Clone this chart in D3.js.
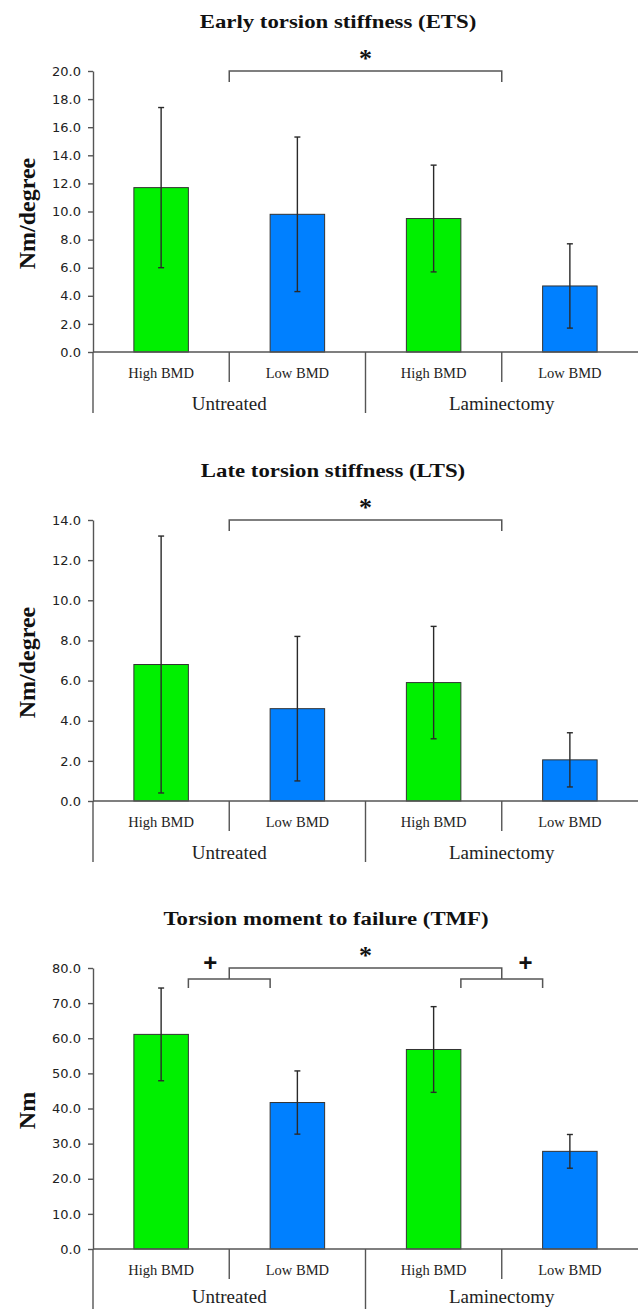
<!DOCTYPE html>
<html>
<head>
<meta charset="utf-8">
<script src="https://cdn.jsdelivr.net/npm/d3@7"></script>
<style>
  body { margin: 0; background: #fff; }
  svg { display: block; }
</style>
</head>
<body>
<div id="chart"></div>
<script>
// --- données ---
const groups = ['Untreated', 'Laminectomy']
const bmd = ['High BMD', 'Low BMD', 'High BMD', 'Low BMD']

const etsMean = [11.7, 9.8, 9.5, 4.7]
const etsSD = [5.7, 5.5, 3.8, 3.0]
const etsTicks = [0, 2, 4, 6, 8, 10, 12, 14, 16, 18, 20]

const ltsMean = [6.8, 4.6, 5.9, 2.05]
const ltsSD = [6.4, 3.6, 2.8, 1.35]
const ltsTicks = [0, 2, 4, 6, 8, 10, 12, 14]

const tmfMean = [61.1, 41.7, 56.8, 27.8]
const tmfSD = [13.2, 9.0, 12.2, 4.8]
const tmfTicks = [0, 10, 20, 30, 40, 50, 60, 70, 80]

const colors = ['#00f000', '#0080ff', '#00f000', '#0080ff']

// --- constantes ---
const W = 639, H = 1309
const left = 93, right = 638, plotH = 281
const serif = "'Liberation Serif', 'Times New Roman', serif"
const axisColor = '#555'

const svg = d3.select('#chart')
    .append('svg')
    .attr('width', W)
    .attr('height', H)

const x = d3.scaleBand()
    .domain(d3.range(bmd.length))
    .range([left, right])

const barW = x.bandwidth() * 0.4
const cx = i => x(i) + x.bandwidth() / 2

function drawChart(top, title, titleX, ylabel, means, sds, ticks, extraBrackets) {
    const g = svg.append('g')
    const y = d3.scaleLinear()
        .domain([0, d3.max(ticks)])
        .range([top + plotH, top])
    const base = y(0)

    // titre
    g.append('text')
        .attr('transform', 'translate(' + titleX + ',' + (top - 43) + ') scale(1.2,1)')
        .attr('text-anchor', 'middle')
        .style('font-family', serif)
        .style('font-weight', 'bold')
        .style('font-size', '19px')
        .style('fill', '#111')
        .text(title)

    // axe y
    const yAxis = g.append('g')
        .attr('transform', 'translate(' + left + ',0)')
        .call(d3.axisLeft(y)
            .tickValues(ticks)
            .tickFormat(d3.format('.1f'))
            .tickSize(5)
            .tickSizeOuter(0)
            .tickPadding(7))
    yAxis.selectAll('path, line')
        .attr('stroke', axisColor)
        .attr('stroke-width', 1.4)
    yAxis.selectAll('text')
        .style('font-family', "'DejaVu Sans', Verdana, sans-serif")
        .style('font-size', '13px')
        .style('fill', '#222')

    // libellé y
    g.append('text')
        .attr('transform', 'translate(35,' + (top + plotH / 2 + 2) + ') rotate(-90)')
        .attr('text-anchor', 'middle')
        .style('font-family', serif)
        .style('font-weight', 'bold')
        .style('font-size', '24px')
        .style('fill', '#111')
        .text(ylabel)

    // barres
    g.selectAll('rect.bar')
        .data(means)
        .enter()
        .append('rect')
        .attr('class', 'bar')
        .attr('x', (d, i) => cx(i) - barW / 2)
        .attr('y', d => y(d))
        .attr('width', barW)
        .attr('height', d => base - y(d))
        .attr('fill', (d, i) => colors[i])
        .attr('stroke', '#333')
        .attr('stroke-width', 1)

    // barres d'erreur
    const err = g.selectAll('g.err')
        .data(means)
        .enter()
        .append('g')
        .attr('stroke', '#2a2a2a')
        .attr('stroke-width', 1.4)
    err.append('line')
        .attr('x1', (d, i) => cx(i)).attr('x2', (d, i) => cx(i))
        .attr('y1', (d, i) => y(d + sds[i]))
        .attr('y2', (d, i) => y(d - sds[i]))
    err.append('line')
        .attr('x1', (d, i) => cx(i) - 3).attr('x2', (d, i) => cx(i) + 3)
        .attr('y1', (d, i) => y(d + sds[i])).attr('y2', (d, i) => y(d + sds[i]))
    err.append('line')
        .attr('x1', (d, i) => cx(i) - 3).attr('x2', (d, i) => cx(i) + 3)
        .attr('y1', (d, i) => y(d - sds[i])).attr('y2', (d, i) => y(d - sds[i]))

    // axe x et séparateurs
    g.append('line')
        .attr('x1', left).attr('x2', right)
        .attr('y1', base).attr('y2', base)
        .attr('stroke', axisColor).attr('stroke-width', 1.4)
    const longTicks = [x(0), x(2)]
    const shortTicks = [x(1), x(3)]
    g.selectAll('line.long')
        .data(longTicks)
        .enter()
        .append('line')
        .attr('x1', d => d).attr('x2', d => d)
        .attr('y1', base).attr('y2', base + 61)
        .attr('stroke', axisColor).attr('stroke-width', 1.4)
    g.selectAll('line.short')
        .data(shortTicks)
        .enter()
        .append('line')
        .attr('x1', d => d).attr('x2', d => d)
        .attr('y1', base).attr('y2', base + 30)
        .attr('stroke', axisColor).attr('stroke-width', 1.4)

    g.selectAll('text.cat')
        .data(bmd)
        .enter()
        .append('text')
        .attr('x', (d, i) => cx(i))
        .attr('y', base + 26)
        .attr('text-anchor', 'middle')
        .style('font-family', serif)
        .style('font-size', '14.5px')
        .style('fill', '#222')
        .text(d => d)

    // le dernier graphique touche le bas de l'image
    const grpY = Math.min(base + 58, H - 6)
    g.selectAll('text.grp')
        .data(groups)
        .enter()
        .append('text')
        .attr('x', (d, i) => x(i * 2) + x.bandwidth())
        .attr('y', grpY)
        .attr('text-anchor', 'middle')
        .style('font-family', serif)
        .style('font-size', '19px')
        .style('fill', '#222')
        .text(d => d)

    // crochet de significativité (*)
    const bx1 = (cx(0) + barW / 2 + cx(1) - barW / 2) / 2
    const bx2 = (cx(2) + barW / 2 + cx(3) - barW / 2) / 2
    g.append('path')
        .attr('d', 'M' + bx1 + ',' + (top + 11) + 'V' + top + 'H' + bx2 + 'V' + (top + 11))
        .attr('fill', 'none')
        .attr('stroke', axisColor).attr('stroke-width', 1.5)
    g.append('text')
        .attr('x', (bx1 + bx2) / 2)
        .attr('y', top - 4)
        .attr('text-anchor', 'middle')
        .style('font-family', serif)
        .style('font-weight', 'bold')
        .style('font-size', '26px')
        .style('fill', '#111')
        .text('*')

    if (extraBrackets) {
        // petits crochets (+)
        [[0, 1, -1], [2, 3, 1]].forEach(p => {
            const a = cx(p[0]) + barW / 2, b = cx(p[1]) - barW / 2
            g.append('path')
                .attr('d', 'M' + a + ',' + (top + 20) + 'V' + (top + 11) + 'H' + b + 'V' + (top + 20))
                .attr('fill', 'none')
                .attr('stroke', axisColor).attr('stroke-width', 1.5)
            g.append('text')
                .attr('x', p[2] < 0 ? a + 22 : b - 17)
                .attr('y', top + 3)
                .attr('text-anchor', 'middle')
                .style('font-family', "'Liberation Sans', Arial, sans-serif")
                .style('font-weight', 'bold')
                .style('font-size', '24px')
                .style('fill', '#111')
                .text('+')
        })
    }
}

drawChart(71, 'Early torsion stiffness (ETS)', 338, 'Nm/degree', etsMean, etsSD, etsTicks, false)
drawChart(520, 'Late torsion stiffness (LTS)', 333, 'Nm/degree', ltsMean, ltsSD, ltsTicks, false)
drawChart(968, 'Torsion moment to failure (TMF)', 326, 'Nm', tmfMean, tmfSD, tmfTicks, true)
</script>
</body>
</html>
